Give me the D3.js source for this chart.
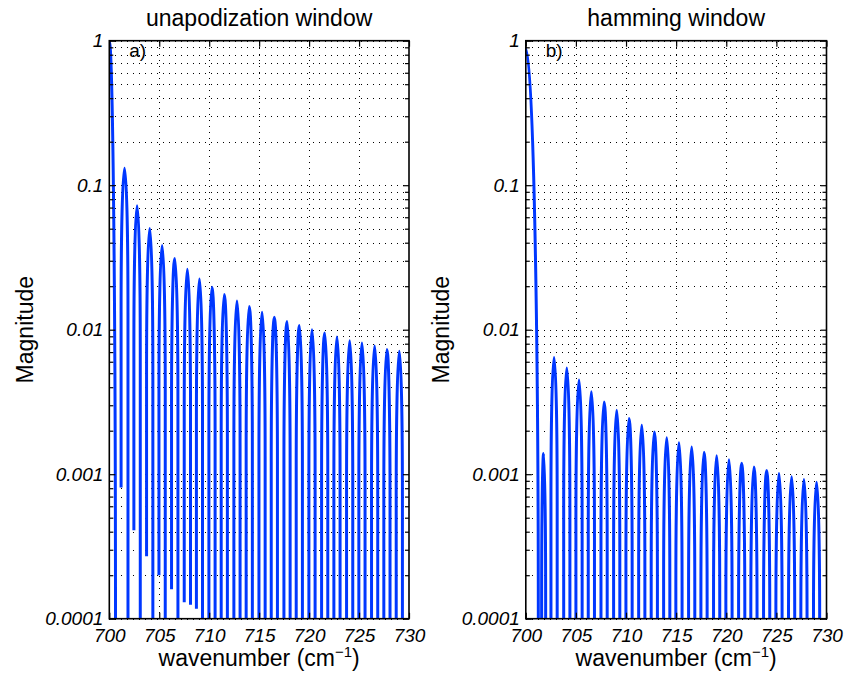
<!DOCTYPE html>
<html>
<head>
<meta charset="utf-8">
<script src="https://cdn.jsdelivr.net/npm/d3@7"></script>
<style>
  body { margin: 0; background: #fff; }
  svg { display: block; font-family: 'Liberation Sans', Arial, Helvetica, sans-serif; }
  .grid .domain { display: none; }
  .grid line { stroke: #000; stroke-width: 1; stroke-dasharray: 1,5; shape-rendering: crispEdges; }
  .ticks .domain { display: none; }
  .ticks line { stroke: #000; stroke-width: 1.2; }
  .ticks text { font-size: 19px; font-style: italic; fill: #000; font-family: 'Liberation Sans', Arial, sans-serif; }
</style>
</head>
<body>
<svg id="chart" width="850" height="681"></svg>
<script>
// Constants
const PLOT_TOP_PX = 40.7;
const PLOT_BOTTOM_PX = 618.7;
const LINE_COLOR = '#0037ff';
const LINE_WIDTH_PX = 3;
const MAJOR_TICK_PX = 6;
const MINOR_TICK_PX = 4;

// Axes
const X_DOMAIN = [700, 730];
const X_TICKS = [700, 705, 710, 715, 720, 725, 730];
const Y_DOMAIN = [0.0001, 1];
const Y_TICKS = [0.0001, 0.001, 0.01, 0.1, 1];
const Y_TICK_LABELS = ['0.0001', '0.001', '0.01', '0.1', '1'];

// Main lobe: [wavenumber of the peak, peak magnitude, wavenumber where it hits zero]
const UNAPOD_MAIN = [700, 1, 700.62];
const HAMMING_MAIN = [700, 0.88, 701.25];

// Positive side lobes. RISE / FALL are the wavenumbers where each lobe leaves
// and returns to zero, PEAK its top. RISE_MAG / FALL_MAG is where a side stops
// when it does not reach the bottom of the axis (null: it runs off the axis).
const UNAPOD_RISE = [701.18, 702.46, 703.73, 704.97, 706.23, 707.50, 708.72,
    709.97, 711.20, 712.47, 713.70, 714.98, 716.21, 717.48, 718.71, 719.98,
    721.25, 722.48, 723.75, 724.98, 726.25, 727.48, 728.72];
const UNAPOD_FALL = [701.87, 703.10, 704.36, 705.60, 706.87, 708.13, 709.33,
    710.59, 711.82, 713.09, 714.32, 715.60, 716.83, 718.10, 719.33, 720.60,
    721.87, 723.10, 724.37, 725.60, 726.87, 728.10, 729.34];
const UNAPOD_PEAK = [0.131, 0.0722, 0.0501, 0.0382, 0.0311, 0.0262, 0.0224,
    0.0197, 0.0175, 0.0158, 0.0145, 0.0132, 0.0122, 0.0114, 0.0107, 0.0100,
    0.0095, 0.0089, 0.0084, 0.0081, 0.0077, 0.0073, 0.0071];
const UNAPOD_RISE_MAG = [0.00081, 0.00041, 0.00027, 0.00020, 0.00016, 0.00013,
    0.000117, null, null, null, null, null, null, null, null, null, null, null,
    null, null, null, null, null];
const UNAPOD_FALL_MAG = [null, null, null, null, null, 0.000125, null, null,
    null, null, null, null, null, null, null, null, null, null, null, null,
    null, null, null];

const HAMMING_RISE = [701.58, 702.51, 703.78, 705.00, 706.23, 707.50, 708.76,
    709.99, 711.26, 712.51, 713.75, 714.97, 716.24, 717.47, 718.73, 719.96,
    721.23, 722.45, 723.72, 724.95, 726.21, 727.44, 728.70];
const HAMMING_FALL = [701.98, 703.13, 704.40, 705.62, 706.85, 708.12, 709.38,
    710.61, 711.88, 713.13, 714.37, 715.59, 716.86, 718.09, 719.35, 720.58,
    721.85, 723.07, 724.34, 725.57, 726.83, 728.06, 729.32];
const HAMMING_PEAK = [0.00139, 0.00643, 0.00544, 0.00448, 0.00372, 0.00316,
    0.00277, 0.00243, 0.00218, 0.00196, 0.00179, 0.00165, 0.00154, 0.00142,
    0.00134, 0.00126, 0.00119, 0.00112, 0.00106, 0.00101, 0.00096, 0.00092,
    0.00088];
const HAMMING_RISE_MAG = HAMMING_PEAK.map(function() { return null; });
const HAMMING_FALL_MAG = HAMMING_PEAK.map(function() { return null; });

function lobes(rise, fall, peak, riseMag, fallMag) {
  return rise.map(function(r, i) {
    return {rise: r, fall: fall[i], peak: peak[i],
            riseMag: riseMag[i], fallMag: fallMag[i]};
  });
}

const PANELS = [
  {title: 'unapodization window', tag: 'a)', left: 109.3, right: 409,
   ylabelX: 33, main: UNAPOD_MAIN,
   lobes: lobes(UNAPOD_RISE, UNAPOD_FALL, UNAPOD_PEAK, UNAPOD_RISE_MAG,
                UNAPOD_FALL_MAG)},
  {title: 'hamming window', tag: 'b)', left: 525.8, right: 826.5,
   ylabelX: 449, main: HAMMING_MAIN,
   lobes: lobes(HAMMING_RISE, HAMMING_FALL, HAMMING_PEAK, HAMMING_RISE_MAG,
                HAMMING_FALL_MAG)},
];

/** One side lobe as an arch: rounded top, sides dropping straight down. */
function lobePath(x, y, d, floor, depth) {
  const x0 = x(d.rise), x1 = x(d.fall), xm = (x0 + x1) / 2;
  const yp = y(d.peak);
  const y0 = d.riseMag == null ? floor : y(d.riseMag);
  const y1 = d.fallMag == null ? floor : y(d.fallMag);
  const r0 = Math.min(depth, y0 - yp), r1 = Math.min(depth, y1 - yp);
  return 'M' + x0 + ',' + y0 + 'V' + (yp + r0) +
      'A' + (xm - x0) + ',' + r0 + ' 0 0 1 ' + xm + ',' + yp +
      'A' + (x1 - xm) + ',' + r1 + ' 0 0 1 ' + x1 + ',' + (yp + r1) +
      'V' + y1;
}

function mainLobePath(x, y, m, floor) {
  const x0 = x(m[0]), y0 = y(m[1]), x1 = x(m[2]);
  return 'M' + x0 + ',' + y0 +
      'A' + (x1 - x0) + ',' + (floor - y0) + ' 0 0 1 ' + x1 + ',' + floor;
}

function drawPanel(svg, p, idx) {
  const x = d3.scaleLinear().domain(X_DOMAIN).range([p.left, p.right]);
  const y = d3.scaleLog().domain(Y_DOMAIN).range([PLOT_BOTTOM_PX, PLOT_TOP_PX]);
  const w = p.right - p.left;
  const h = PLOT_BOTTOM_PX - PLOT_TOP_PX;
  const minor = y.ticks().filter(function(t) {
    return Y_TICKS.indexOf(+t.toPrecision(1)) == -1;
  });
  const g = svg.append('g');

  // Dotted grid: every log tick across, major wavenumbers down.
  g.append('g').attr('class', 'grid')
      .attr('transform', 'translate(' + p.left + ',0)')
      .call(d3.axisLeft(y).tickValues(y.ticks()).tickSize(-w).tickFormat(''));
  g.append('g').attr('class', 'grid')
      .attr('transform', 'translate(0,' + PLOT_BOTTOM_PX + ')')
      .call(d3.axisBottom(x).tickValues(X_TICKS.slice(1, -1))
          .tickSize(-h).tickFormat(''));

  // The curve
  const clipId = 'clip' + idx;
  g.append('clipPath').attr('id', clipId).append('rect')
      .attr('x', p.left).attr('y', PLOT_TOP_PX).attr('width', w).attr('height', h);
  const floor = PLOT_BOTTOM_PX + 4;
  const depth = y(0.1) - y(1);
  const curve = g.append('g').attr('clip-path', 'url(#' + clipId + ')')
      .attr('fill', 'none').attr('stroke', LINE_COLOR)
      .attr('stroke-width', LINE_WIDTH_PX);
  curve.append('path').attr('d', mainLobePath(x, y, p.main, floor));
  curve.selectAll('path.lobe').data(p.lobes).enter().append('path')
      .attr('class', 'lobe')
      .attr('d', function(d) { return lobePath(x, y, d, floor, depth); });

  // Ticks on all four sides, pointing in.
  g.append('g').attr('class', 'ticks')
      .attr('transform', 'translate(' + p.left + ',0)')
      .call(d3.axisLeft(y).tickValues(Y_TICKS).tickSize(-MAJOR_TICK_PX)
          .tickPadding(6).tickFormat(function(d, i) { return Y_TICK_LABELS[i]; }));
  g.append('g').attr('class', 'ticks')
      .attr('transform', 'translate(' + p.left + ',0)')
      .call(d3.axisLeft(y).tickValues(minor).tickSize(-MINOR_TICK_PX).tickFormat(''));
  g.append('g').attr('class', 'ticks')
      .attr('transform', 'translate(' + p.right + ',0)')
      .call(d3.axisRight(y).tickValues(Y_TICKS).tickSize(-MAJOR_TICK_PX).tickFormat(''));
  g.append('g').attr('class', 'ticks')
      .attr('transform', 'translate(' + p.right + ',0)')
      .call(d3.axisRight(y).tickValues(minor).tickSize(-MINOR_TICK_PX).tickFormat(''));
  g.append('g').attr('class', 'ticks')
      .attr('transform', 'translate(0,' + PLOT_BOTTOM_PX + ')')
      .call(d3.axisBottom(x).tickValues(X_TICKS).tickSize(-MAJOR_TICK_PX)
          .tickPadding(9.5).tickFormat(d3.format('d')));
  g.append('g').attr('class', 'ticks')
      .attr('transform', 'translate(0,' + PLOT_TOP_PX + ')')
      .call(d3.axisTop(x).tickValues(X_TICKS).tickSize(-MAJOR_TICK_PX).tickFormat(''));

  g.append('rect')
      .attr('x', p.left).attr('y', PLOT_TOP_PX).attr('width', w).attr('height', h)
      .attr('fill', 'none').attr('stroke', '#000').attr('stroke-width', 1.6);

  // Texts
  const cx = (p.left + p.right) / 2;
  g.append('text').attr('x', cx).attr('y', 26)
      .attr('text-anchor', 'middle').attr('font-size', 23).text(p.title);
  g.append('text').attr('x', p.left + 20).attr('y', 57)
      .attr('font-size', 19).text(p.tag);
  g.append('text')
      .attr('transform', 'translate(' + p.ylabelX + ',' + (PLOT_TOP_PX + h / 2) +
          ') rotate(-90)')
      .attr('text-anchor', 'middle').attr('font-size', 23).text('Magnitude');
  const xl = g.append('text').attr('x', cx).attr('y', 666)
      .attr('text-anchor', 'middle').attr('font-size', 23);
  xl.append('tspan').text('wavenumber (cm');
  xl.append('tspan').attr('dy', -9).attr('font-size', 15).text('\u22121');
  xl.append('tspan').attr('dy', 9).text(')');
}

function init() {
  const svg = d3.select('#chart');
  svg.append('rect').attr('width', 850).attr('height', 681).attr('fill', '#fff');
  PANELS.forEach(function(p, i) { drawPanel(svg, p, i); });
}

init();
</script>
</body>
</html>
